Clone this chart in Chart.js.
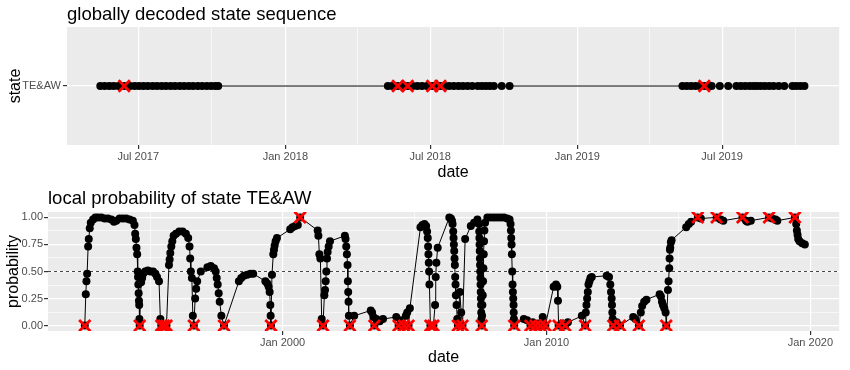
<!DOCTYPE html>
<html><head><meta charset="utf-8">
<script src="https://cdn.jsdelivr.net/npm/chart.js@4.4.1/dist/chart.umd.min.js"></script>
<style>
html,body{margin:0;padding:0;background:#fff;}
#wrap{position:relative;width:850px;height:370px;}
canvas{position:absolute;left:0;}
</style></head>
<body><div id="wrap">
<canvas id="topChart" width="850" height="185" style="top:0"></canvas>
<canvas id="bottomChart" width="850" height="185" style="top:185px"></canvas>
</div>
<script>
// ---------- DATA ----------
const states = ['TE&AW'];

// globally decoded state sequence (dates as decimal years)
const seqDates = [
  2017.366, 2017.381, 2017.397, 2017.412, 2017.428, 2017.448, 2017.468, 2017.484, 2017.499, 2017.514,
  2017.529, 2017.545, 2017.560, 2017.576, 2017.591, 2017.607, 2017.622, 2017.638, 2017.653, 2017.669,
  2017.684, 2017.700, 2017.715, 2017.731, 2017.746, 2017.760, 2017.770,
  2018.351, 2018.366, 2018.385, 2018.402, 2018.419, 2018.436, 2018.452, 2018.468, 2018.485, 2018.503,
  2018.517, 2018.531, 2018.546, 2018.561, 2018.577, 2018.593, 2018.608, 2018.624, 2018.640, 2018.659,
  2018.673, 2018.687, 2018.700, 2018.714, 2018.741, 2018.768,
  2019.360, 2019.375, 2019.390, 2019.405, 2019.420, 2019.435, 2019.448, 2019.460, 2019.488, 2019.517,
  2019.545, 2019.560, 2019.575, 2019.590, 2019.603, 2019.615, 2019.628, 2019.642, 2019.657, 2019.672,
  2019.690, 2019.709, 2019.737, 2019.750, 2019.764, 2019.778
];
const seqAnomalyDates = [2017.448, 2018.385, 2018.419, 2018.503, 2018.531, 2019.435];

const topTickValues = [2017.496, 2017.748, 2018.0, 2018.247, 2018.496, 2018.748, 2019.0, 2019.247, 2019.496, 2019.748];
const topTickLabels = ['Jul 2017', '', 'Jan 2018', '', 'Jul 2018', '', 'Jan 2019', '', 'Jul 2019', ''];

// local probability of state TE&AW
const probDates = [
  1992.505, 1992.543, 1992.568, 1992.593, 1992.631, 1992.656, 1992.693, 1992.731, 1992.819, 1992.907,
  1993.007, 1993.133, 1993.259, 1993.384, 1993.510, 1993.610, 1993.698, 1993.824, 1993.949, 1994.075,
  1994.201, 1994.326, 1994.389, 1994.414, 1994.439, 1994.464, 1994.490, 1994.510, 1994.522, 1994.534,
  1994.546, 1994.558, 1994.567, 1994.575, 1994.585, 1994.640, 1994.678, 1994.716, 1994.791, 1994.891,
  1994.992, 1995.092, 1995.180, 1995.243, 1995.318, 1995.369, 1995.405, 1995.500, 1995.600, 1995.695,
  1995.720, 1995.745, 1995.783, 1995.821, 1995.871, 1995.959, 1996.085, 1996.210, 1996.336, 1996.424,
  1996.474, 1996.499, 1996.524, 1996.562, 1996.599, 1996.637, 1996.687, 1996.725, 1996.763, 1996.901,
  1997.152, 1997.278, 1997.403, 1997.466, 1997.504, 1997.541, 1997.579, 1997.617, 1997.680, 1997.780,
  1998.345, 1998.433, 1998.534, 1998.659, 1998.785, 1998.886, 1999.347, 1999.422, 1999.473, 1999.510,
  1999.535, 1999.548, 1999.560, 1999.598, 1999.648, 1999.674, 1999.699, 1999.736, 1999.787, 2000.289,
  2000.377, 2000.477, 2000.578, 2000.666, 2001.331, 2001.357, 2001.394, 2001.432, 2001.482, 2001.532,
  2001.583, 2001.608, 2001.633, 2001.658, 2001.683, 2001.708, 2001.746, 2001.796, 2002.361, 2002.386,
  2002.412, 2002.437, 2002.462, 2002.474, 2002.487, 2002.499, 2002.512, 2002.550, 2002.713, 2003.341,
  2003.391, 2003.441, 2003.479, 2003.555, 2003.680, 2003.806, 2004.308, 2004.396, 2004.497, 2004.597,
  2004.672, 2004.723, 2004.773, 2004.823, 2005.225, 2005.300, 2005.376, 2005.439, 2005.476, 2005.501,
  2005.514, 2005.527, 2005.539, 2005.552, 2005.564, 2005.602, 2005.715, 2005.778, 2005.803, 2005.828,
  2005.878, 2006.318, 2006.380, 2006.420, 2006.441, 2006.466, 2006.479, 2006.491, 2006.504, 2006.516,
  2006.529, 2006.541, 2006.554, 2006.567, 2006.592, 2006.617, 2006.642, 2006.717, 2006.768, 2006.818,
  2006.918, 2007.132, 2007.257, 2007.383, 2007.446, 2007.452, 2007.458, 2007.465, 2007.471, 2007.477,
  2007.483, 2007.490, 2007.496, 2007.502, 2007.509, 2007.515, 2007.521, 2007.527, 2007.534, 2007.546,
  2007.559, 2007.571, 2007.584, 2007.597, 2007.609, 2007.622, 2007.634, 2007.647, 2007.672, 2007.760,
  2007.885, 2008.011, 2008.137, 2008.262, 2008.388, 2008.513, 2008.601, 2008.639, 2008.652, 2008.664,
  2008.677, 2008.689, 2008.702, 2008.714, 2008.727, 2008.740, 2008.752, 2008.758, 2008.765, 2008.777,
  2009.141, 2009.267, 2009.393, 2009.480, 2009.581, 2009.680, 2009.769, 2009.857, 2009.957, 2010.272,
  2010.360, 2010.410, 2010.435, 2010.460, 2010.590, 2010.711, 2010.812, 2011.339, 2011.465, 2011.490,
  2011.515, 2011.540, 2011.566, 2011.591, 2011.628, 2011.666, 2011.716, 2012.281, 2012.369, 2012.419,
  2012.445, 2012.470, 2012.482, 2012.495, 2012.507, 2012.532, 2012.658, 2012.784, 2013.286, 2013.374,
  2013.500, 2013.575, 2013.625, 2013.701, 2013.788, 2014.288, 2014.338, 2014.376, 2014.414, 2014.464,
  2014.514, 2014.539, 2014.602, 2014.627, 2014.652, 2014.665, 2014.678, 2014.690, 2014.715, 2014.740,
  2015.293, 2015.393, 2015.481, 2015.733, 2015.850, 2016.450, 2016.600, 2016.700, 2017.428, 2017.560,
  2017.617, 2017.742, 2018.433, 2018.559, 2018.680, 2018.747, 2019.413, 2019.463, 2019.488, 2019.513,
  2019.539, 2019.589, 2019.689, 2019.790
];
const probValues = [
  0.00, 0.29, 0.41, 0.48, 0.73, 0.80, 0.90, 0.95, 0.98, 1.00,
  1.00, 1.00, 0.99, 0.99, 0.98, 0.96, 0.97, 0.99, 0.99, 0.99,
  0.98, 0.97, 0.93, 0.85, 0.80, 0.72, 0.66, 0.50, 0.45, 0.38,
  0.30, 0.23, 0.19, 0.06, 0.00, 0.40, 0.44, 0.48, 0.50, 0.51,
  0.50, 0.50, 0.48, 0.45, 0.41, 0.06, 0.00, 0.00, 0.00, 0.56,
  0.61, 0.67, 0.73, 0.78, 0.83, 0.85, 0.87, 0.87, 0.85, 0.81,
  0.73, 0.62, 0.50, 0.44, 0.09, 0.00, 0.25, 0.34, 0.41, 0.50,
  0.54, 0.55, 0.53, 0.50, 0.44, 0.38, 0.30, 0.22, 0.09, 0.00,
  0.41, 0.44, 0.46, 0.47, 0.48, 0.48, 0.41, 0.39, 0.36, 0.31,
  0.19, 0.09, 0.00, 0.47, 0.66, 0.70, 0.74, 0.78, 0.81, 0.89,
  0.91, 0.92, 0.93, 1.00, 0.88, 0.83, 0.66, 0.62, 0.06, 0.00,
  0.28, 0.33, 0.41, 0.50, 0.62, 0.68, 0.73, 0.78, 0.83, 0.80,
  0.73, 0.66, 0.56, 0.41, 0.31, 0.22, 0.09, 0.00, 0.09, 0.14,
  0.12, 0.08, 0.00, 0.06, 0.04, 0.06, 0.08, 0.00, 0.05, 0.00,
  0.09, 0.12, 0.00, 0.16, 0.91, 0.93, 0.94, 0.92, 0.87, 0.81,
  0.73, 0.66, 0.58, 0.50, 0.38, 0.00, 0.00, 0.19, 0.45, 0.58,
  0.72, 1.00, 0.99, 0.97, 0.94, 0.87, 0.81, 0.75, 0.69, 0.62,
  0.56, 0.45, 0.38, 0.28, 0.19, 0.06, 0.00, 0.31, 0.12, 0.00,
  0.80, 0.92, 0.95, 0.98, 0.94, 0.87, 0.81, 0.75, 0.69, 0.62,
  0.56, 0.50, 0.44, 0.38, 0.31, 0.25, 0.19, 0.12, 0.06, 0.00,
  0.09, 0.19, 0.28, 0.41, 0.53, 0.66, 0.78, 0.88, 0.95, 1.00,
  1.00, 1.00, 1.00, 1.00, 1.00, 0.99, 0.98, 0.94, 0.88, 0.81,
  0.75, 0.66, 0.50, 0.38, 0.31, 0.25, 0.19, 0.12, 0.06, 0.00,
  0.06, 0.05, 0.00, 0.03, 0.00, 0.02, 0.00, 0.08, 0.00, 0.36,
  0.38, 0.36, 0.23, 0.00, 0.02, 0.00, 0.03, 0.09, 0.00, 0.12,
  0.19, 0.25, 0.31, 0.38, 0.41, 0.44, 0.45, 0.46, 0.45, 0.38,
  0.31, 0.25, 0.19, 0.12, 0.06, 0.00, 0.03, 0.00, 0.08, 0.06,
  0.00, 0.12, 0.18, 0.22, 0.24, 0.29, 0.27, 0.22, 0.19, 0.16,
  0.12, 0.00, 0.33, 0.41, 0.53, 0.62, 0.70, 0.72, 0.77, 0.79,
  0.91, 0.94, 0.96, 1.00, 0.99, 1.00, 0.98, 0.97, 1.00, 0.97,
  0.96, 0.97, 1.00, 0.99, 0.98, 0.97, 1.00, 0.94, 0.88, 0.84,
  0.80, 0.78, 0.76, 0.75
];
const anomalyDates = [
  1992.505, 1994.585, 1995.405, 1995.500, 1995.600, 1996.637, 1997.780, 1999.560, 2000.666, 2001.532,
  2002.550, 2003.479, 2004.396, 2004.597, 2004.773, 2005.602, 2005.715, 2006.642, 2006.818, 2007.546,
  2008.777, 2009.393, 2009.581, 2009.769, 2009.957, 2010.460, 2010.711, 2011.465, 2012.532, 2012.784,
  2013.500, 2014.539, 2015.733, 2016.450, 2017.428, 2018.433, 2019.413
];
const anomalyValues = [
  0, 0, 0, 0, 0, 0, 0, 0, 1, 0,
  0, 0, 0, 0, 0, 0, 0, 0, 0, 0,
  0, 0, 0, 0, 0, 0, 0, 0, 0, 0,
  0, 0, 1, 1, 1, 1, 1
];
const threshold = 0.5;

const bottomTickValues = [1995, 2000, 2005, 2010, 2015, 2020];
const bottomTickLabels = ['', 'Jan 2000', '', 'Jan 2010', '', 'Jan 2020'];
const probTickValues = [0, 0.125, 0.25, 0.375, 0.5, 0.625, 0.75, 0.875, 1];
const probTickLabels = ['0.00', '', '0.25', '', '0.50', '', '0.75', '', '1.00'];

// ---------- STYLE / RENDER ----------
const FONT = "'Liberation Sans', Arial, Helvetica, sans-serif";
const TICK_FONT = {family: FONT, size: 11};
const TICK_COL = '#4D4D4D';
const PT_R = 4;
const X_R = 8;
const X_W = 2.8;

const ggDecor = {
  id: 'ggDecor',
  beforeDraw(chart, args, o) {
    const {ctx, chartArea: a} = chart;
    ctx.save();
    ctx.fillStyle = '#EBEBEB';
    ctx.fillRect(a.left, a.top, a.right - a.left, a.bottom - a.top);
    ctx.restore();
  },
  afterDraw(chart, args, o) {
    const {ctx, chartArea: a} = chart;
    ctx.save();
    ctx.fillStyle = '#000';
    ctx.textBaseline = 'alphabetic';
    ctx.font = '18.5px ' + FONT;
    ctx.textAlign = 'left';
    ctx.fillText(o.title, a.left, o.titleY);
    ctx.font = '16px ' + FONT;
    ctx.textAlign = 'center';
    ctx.fillText(o.xTitle, (a.left + a.right) / 2, o.xTitleY);
    ctx.translate(o.yTitleX, (a.top + a.bottom) / 2);
    ctx.rotate(-Math.PI / 2);
    ctx.fillText(o.yTitle, 0, 0);
    ctx.restore();
  }
};

function xAxis(min, max, values, labels, height) {
  return {
    type: 'linear', min: min, max: max,
    afterBuildTicks: s => { s.ticks = values.map(v => ({value: v})); },
    afterFit: s => { s.height = height; },
    ticks: {
      autoSkip: false, maxRotation: 0, minRotation: 0, padding: 1,
      color: TICK_COL, font: TICK_FONT,
      callback: (v, i) => labels[i]
    },
    grid: {
      color: '#FFFFFF',
      lineWidth: c => (labels[c.index] ? 1.2 : 0.6),
      tickColor: c => (labels[c.index] ? '#333333' : 'rgba(0,0,0,0)'),
      tickLength: 4, drawTicks: true
    },
    border: {display: false}
  };
}

const common = {
  responsive: false, animation: false, devicePixelRatio: 1, events: [],
  layout: {padding: {top: 27, right: 6, left: 0, bottom: 0}}
};

// top chart
new Chart(document.getElementById('topChart'), {
  type: 'scatter',
  data: {
    datasets: [
      {
        data: seqAnomalyDates.map(d => ({x: d, y: states[0]})),
        showLine: false, pointStyle: 'crossRot', pointRadius: X_R,
        pointBorderColor: '#FF0000', pointBackgroundColor: '#FF0000', pointBorderWidth: X_W,
        order: 1
      },
      {
        data: seqDates.map(d => ({x: d, y: states[0]})),
        showLine: true, borderColor: '#000000', borderWidth: 1,
        pointRadius: PT_R, pointBackgroundColor: '#000000', pointBorderWidth: 0,
        order: 2
      }
    ]
  },
  options: Object.assign({}, common, {
    plugins: {
      legend: {display: false}, tooltip: {enabled: false},
      ggDecor: {title: 'globally decoded state sequence', titleY: 20, xTitle: 'date', xTitleY: 177, yTitle: 'state', yTitleX: 19.5}
    },
    scales: {
      x: xAxis(2017.252, 2019.897, topTickValues, topTickLabels, 40),
      y: {
        type: 'category', labels: states, offset: true,
        afterFit: s => { s.width = 67; },
        ticks: {color: TICK_COL, font: TICK_FONT, padding: 2},
        grid: {color: '#FFFFFF', lineWidth: 1.2, tickColor: '#333333', tickLength: 4, offset: false},
        border: {display: false}
      }
    }
  }),
  plugins: [ggDecor]
});

// bottom chart
const bMin = 1991.111, bMax = 2021.092;
new Chart(document.getElementById('bottomChart'), {
  type: 'scatter',
  data: {
    datasets: [
      {
        data: anomalyDates.map((d, i) => ({x: d, y: anomalyValues[i]})),
        showLine: false, pointStyle: 'crossRot', pointRadius: X_R,
        pointBorderColor: '#FF0000', pointBackgroundColor: '#FF0000', pointBorderWidth: X_W,
        order: 1
      },
      {
        data: probDates.map((d, i) => ({x: d, y: probValues[i]})),
        showLine: true, borderColor: '#000000', borderWidth: 1,
        pointRadius: PT_R, pointBackgroundColor: '#000000', pointBorderWidth: 0,
        order: 2
      },
      {
        data: [{x: bMin, y: threshold}, {x: bMax, y: threshold}],
        showLine: true, borderColor: '#333333', borderWidth: 0.9, borderDash: [3, 3],
        pointRadius: 0, order: 3
      }
    ]
  },
  options: Object.assign({}, common, {
    plugins: {
      legend: {display: false}, tooltip: {enabled: false},
      ggDecor: {title: 'local probability of state TE&AW', titleY: 19, xTitle: 'date', xTitleY: 177, yTitle: 'probability', yTitleX: 17.5}
    },
    scales: {
      x: xAxis(bMin, bMax, bottomTickValues, bottomTickLabels, 39),
      y: {
        type: 'linear', min: -0.05, max: 1.05,
        afterBuildTicks: s => { s.ticks = probTickValues.map(v => ({value: v})); },
        afterFit: s => { s.width = 48; },
        ticks: {color: TICK_COL, font: TICK_FONT, padding: 1, autoSkip: false, callback: (v, i) => probTickLabels[i]},
        grid: {
          color: '#FFFFFF',
          lineWidth: c => (probTickLabels[c.index] ? 1.2 : 0.6),
          tickColor: c => (probTickLabels[c.index] ? '#333333' : 'rgba(0,0,0,0)'),
          tickLength: 4
        },
        border: {display: false}
      }
    }
  }),
  plugins: [ggDecor]
});
</script>
</body></html>
